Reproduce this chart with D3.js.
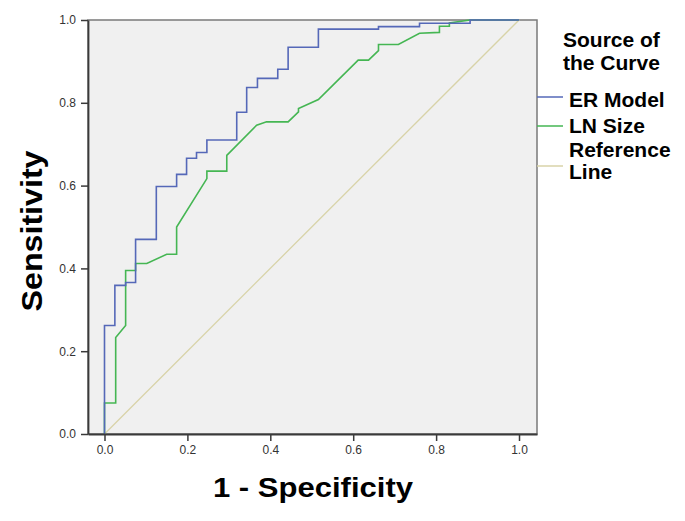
<!DOCTYPE html>
<html>
<head>
<meta charset="utf-8">
<script src="https://cdn.jsdelivr.net/npm/d3@7"></script>
<style>
  body { margin: 0; background: #fff; }
  svg { display: block; font-family: "Liberation Sans", Arial, sans-serif; }
</style>
</head>
<body>
<svg id="chart" width="685" height="521"></svg>
<script>
// ROC points (1 - specificity, sensitivity)
const erFpr = [0, 0, 0.025, 0.025, 0.051, 0.051, 0.075, 0.075, 0.125, 0.125, 0.174, 0.174, 0.198, 0.198,
    0.222, 0.222, 0.247, 0.247, 0.319, 0.319, 0.343, 0.343, 0.369, 0.369, 0.418, 0.418, 0.443, 0.443,
    0.516, 0.516, 0.661, 0.661, 0.760, 0.760, 0.882, 0.882, 1];
const erTpr = [0, 0.262, 0.262, 0.359, 0.359, 0.366, 0.366, 0.470, 0.470, 0.598, 0.598, 0.627, 0.627, 0.666,
    0.666, 0.680, 0.680, 0.710, 0.710, 0.777, 0.777, 0.837, 0.837, 0.859, 0.859, 0.881, 0.881, 0.934,
    0.934, 0.978, 0.978, 0.984, 0.984, 0.992, 0.992, 1, 1];

const lnFpr = [0, 0, 0.027, 0.027, 0.051, 0.051, 0.075, 0.075, 0.102, 0.150, 0.174, 0.174, 0.247, 0.247,
    0.295, 0.295, 0.367, 0.391, 0.443, 0.468, 0.468, 0.516, 0.612, 0.637, 0.661, 0.661, 0.709, 0.760,
    0.808, 0.808, 0.832, 0.832, 0.882, 1];
const lnTpr = [0, 0.075, 0.075, 0.233, 0.262, 0.395, 0.395, 0.412, 0.412, 0.434, 0.434, 0.500, 0.617, 0.635,
    0.635, 0.673, 0.746, 0.754, 0.754, 0.778, 0.786, 0.808, 0.903, 0.903, 0.926, 0.941, 0.941, 0.968,
    0.970, 0.985, 0.985, 0.993, 1, 1];

const refFpr = [0, 1];
const refTpr = [0, 1];

const tickVals = [0, 0.2, 0.4, 0.6, 0.8, 1.0];

const seriesNames = ['ER Model', 'LN Size', 'Reference Line'];
const seriesColors = ['#5568b8', '#45b653', '#d8d3a8'];

const svg = d3.select('#chart');

const x = d3.scaleLinear().domain([-0.0398, 1.0434]).range([88, 537]);
const y = d3.scaleLinear().domain([0, 1]).range([434, 20]);

// plot background + frame
svg.append('rect')
    .attr('x', x.range()[0]).attr('y', y.range()[1])
    .attr('width', x.range()[1] - x.range()[0])
    .attr('height', y.range()[0] - y.range()[1])
    .attr('fill', '#f0f0f0')
    .attr('stroke', '#7a7a7a')
    .attr('stroke-width', 1.5);

const line = d3.line().x(d => x(d[0])).y(d => y(d[1]));

const series = [
    d3.zip(erFpr, erTpr),
    d3.zip(lnFpr, lnTpr),
    d3.zip(refFpr, refTpr)
];

// draw reference first, then curves
[2, 1, 0].forEach(i => {
    svg.append('path')
        .datum(series[i])
        .attr('d', line)
        .attr('fill', 'none')
        .attr('stroke', seriesColors[i])
        .attr('stroke-width', i == 2 ? 1.3 : 1.6)
        .attr('stroke-linejoin', 'miter');
});

const xAxis = svg.append('g')
    .attr('transform', `translate(0,${y(0)})`)
    .call(d3.axisBottom(x).tickValues(tickVals).tickFormat(d3.format('.1f'))
        .tickSize(7).tickSizeOuter(0).tickPadding(4));

const yAxis = svg.append('g')
    .attr('transform', `translate(${x.range()[0]},0)`)
    .call(d3.axisLeft(y).tickValues(tickVals).tickFormat(d3.format('.1f'))
        .tickSize(7).tickSizeOuter(0).tickPadding(5));

[xAxis, yAxis].forEach(g => {
    g.select('.domain').attr('stroke', '#3a3a3a').attr('stroke-width', 1.8);
    g.selectAll('.tick line').attr('stroke', '#3a3a3a').attr('stroke-width', 1.5);
    g.selectAll('.tick text')
        .attr('font-size', 12)
        .attr('fill', '#333')
        .attr('font-family', '"Liberation Sans", Arial, sans-serif');
});

// axis titles
svg.append('text')
    .attr('x', 313).attr('y', 497)
    .attr('text-anchor', 'middle')
    .attr('font-size', 28).attr('font-weight', 'bold')
    .attr('textLength', 200).attr('lengthAdjust', 'spacingAndGlyphs')
    .text('1 - Specificity');

svg.append('text')
    .attr('transform', 'translate(42,231) rotate(-90)')
    .attr('text-anchor', 'middle')
    .attr('font-size', 29).attr('font-weight', 'bold')
    .attr('textLength', 161).attr('lengthAdjust', 'spacingAndGlyphs')
    .text('Sensitivity');

// legend
const leg = svg.append('g');
leg.append('text').attr('x', 563).attr('y', 47)
    .attr('font-size', 21).attr('font-weight', 'bold').text('Source of');
leg.append('text').attr('x', 563).attr('y', 70)
    .attr('font-size', 21).attr('font-weight', 'bold').text('the Curve');

const legLineY = [97, 126, 166];
const legText = [[['ER Model', 107]], [['LN Size', 133]], [['Reference', 157], ['Line', 179]]];

seriesNames.forEach((name, i) => {
    leg.append('line')
        .attr('x1', 537).attr('x2', 563)
        .attr('y1', legLineY[i]).attr('y2', legLineY[i])
        .attr('stroke', seriesColors[i]).attr('stroke-width', 1.5);
    legText[i].forEach(t => {
        leg.append('text').attr('x', 569).attr('y', t[1])
            .attr('font-size', 21).attr('font-weight', 'bold').text(t[0]);
    });
});
</script>
</body>
</html>
